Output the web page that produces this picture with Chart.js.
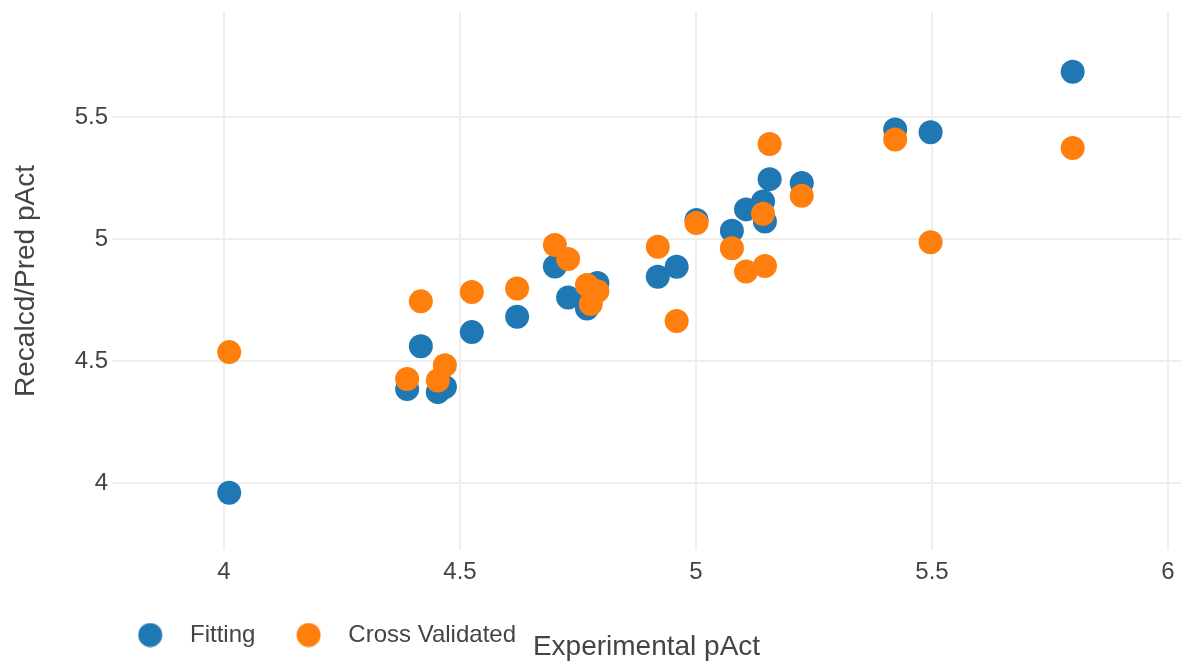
<!DOCTYPE html>
<html>
<head>
<meta charset="utf-8">
<script src="https://cdn.jsdelivr.net/npm/chart.js@4/dist/chart.umd.min.js"></script>
<style>
  html, body { margin: 0; padding: 0; background: #fff; }
  #wrap { width: 1181px; height: 664px; }
</style>
</head>
<body>
<div id="wrap"><canvas id="pactChart" width="1181" height="664"></canvas></div>
<script>
// experimental pAct per compound, with the fitted and cross validated predictions
const experimental = [4.011, 4.388, 4.417, 4.453, 4.468, 4.525, 4.621, 4.701, 4.729, 4.769, 4.777, 4.791,
	4.919, 4.959, 5.001, 5.076, 5.106, 5.142, 5.146, 5.156, 5.224, 5.422, 5.497, 5.798];
const fitting = [3.960, 4.385, 4.560, 4.372, 4.393, 4.618, 4.681, 4.887, 4.760, 4.715, 4.766, 4.819,
	4.845, 4.886, 5.078, 5.033, 5.121, 5.153, 5.071, 5.245, 5.229, 5.448, 5.437, 5.685];
const crossValidated = [4.536, 4.426, 4.744, 4.420, 4.482, 4.782, 4.797, 4.975, 4.918, 4.811, 4.733, 4.786,
	4.968, 4.664, 5.065, 4.962, 4.866, 5.103, 4.889, 5.389, 5.177, 5.407, 4.986, 5.373];

const seriesNames = ['Fitting', 'Cross Validated'];
const seriesColors = ['#1f77b4', '#ff7f0e'];
const xTicks = [4, 4.5, 5, 5.5, 6];
const yTicks = [4, 4.5, 5, 5.5];

const textColor = '#444';
const gridColor = '#eeeeee';

Chart.defaults.font.family = '"Liberation Sans", Arial, sans-serif';
Chart.defaults.color = textColor;

function toPoints(ys) {
	return experimental.map((x, i) => ({ x: x, y: ys[i] }));
}

// legend swatch: a dot sitting at the left of a wider box so the label keeps its distance
function legendDot(color) {
	const c = document.createElement('canvas');
	c.width = 40;
	c.height = 25;
	const g = c.getContext('2d');
	g.fillStyle = color;
	g.beginPath();
	g.arc(12.5, 12.5, 12, 0, Math.PI * 2);
	g.fill();
	return c;
}

// the legend starts a bit left of the plot, under the y tick labels
const legendOffset = {
	id: 'legendOffset',
	afterLayout(chart) {
		chart.legend.left = 97;
	},
};

// no extra room around the axes for the outer tick labels
function noLabelPadding(scale) {
	scale.paddingTop = 0;
	scale.paddingBottom = 0;
	scale.paddingLeft = 0;
	scale.paddingRight = 0;
}

const data = {
	datasets: [
		{
			label: seriesNames[0],
			data: toPoints(fitting),
			backgroundColor: seriesColors[0],
			borderWidth: 0,
			pointRadius: 12,
			order: 1,
		},
		{
			label: seriesNames[1],
			data: toPoints(crossValidated),
			backgroundColor: seriesColors[1],
			borderWidth: 0,
			pointRadius: 12,
			order: 0, // drawn on top of the fitted values
		},
	],
};

const chartConfig = {
	type: 'scatter',
	data,
	options: {
		responsive: false,
		animation: false,
		layout: {
			autoPadding: false,
			padding: { top: 12, right: 0, bottom: 7, left: 0 },
		},
		scales: {
			x: {
				type: 'linear',
				min: 3.7627,
				max: 6.0275,
				afterBuildTicks: (scale) => {
					scale.ticks = xTicks.map((v) => ({ value: v }));
				},
				afterFit: (scale) => {
					scale.height = 32.5;
					noLabelPadding(scale);
				},
				border: { display: false },
				grid: { color: gridColor, lineWidth: 2, drawTicks: false },
				ticks: {
					padding: 7.5,
					font: { size: 24 },
					color: textColor,
					callback: (value) => String(value),
				},
				title: {
					display: true,
					text: 'Experimental pAct',
					font: { size: 28 },
					color: textColor,
					padding: { top: 0, bottom: -81.3 },
				},
			},
			y: {
				type: 'linear',
				min: 3.725,
				max: 5.93,
				afterBuildTicks: (scale) => {
					scale.ticks = yTicks.map((v) => ({ value: v }));
				},
				afterFit: (scale) => {
					scale.width = 112;
					noLabelPadding(scale);
				},
				border: { display: false },
				grid: { color: gridColor, lineWidth: 2, drawTicks: false },
				ticks: {
					padding: 4,
					font: { size: 24 },
					color: textColor,
					callback: (value) => String(value),
				},
				title: {
					display: true,
					text: 'Recalcd/Pred pAct',
					font: { size: 28 },
					color: textColor,
					padding: { top: 9, bottom: 0 },
				},
			},
		},
		plugins: {
			tooltip: { enabled: false },
			legend: {
				position: 'bottom',
				align: 'start',
				labels: {
					usePointStyle: true,
					pointStyleWidth: 40.5,
					boxHeight: 24,
					padding: 40.5,
					font: { size: 24 },
					color: textColor,
					sort: (a, b) => a.datasetIndex - b.datasetIndex,
					generateLabels: (chart) => {
						const items = Chart.defaults.plugins.legend.labels.generateLabels(chart);
						return items.map((item) => ({
							...item,
							pointStyle: legendDot(seriesColors[item.datasetIndex]),
						}));
					},
				},
			},
		},
	},
	plugins: [legendOffset],
};

const ctx = document.getElementById('pactChart');
const pactChart = new Chart(ctx, chartConfig);
</script>
</body>
</html>
